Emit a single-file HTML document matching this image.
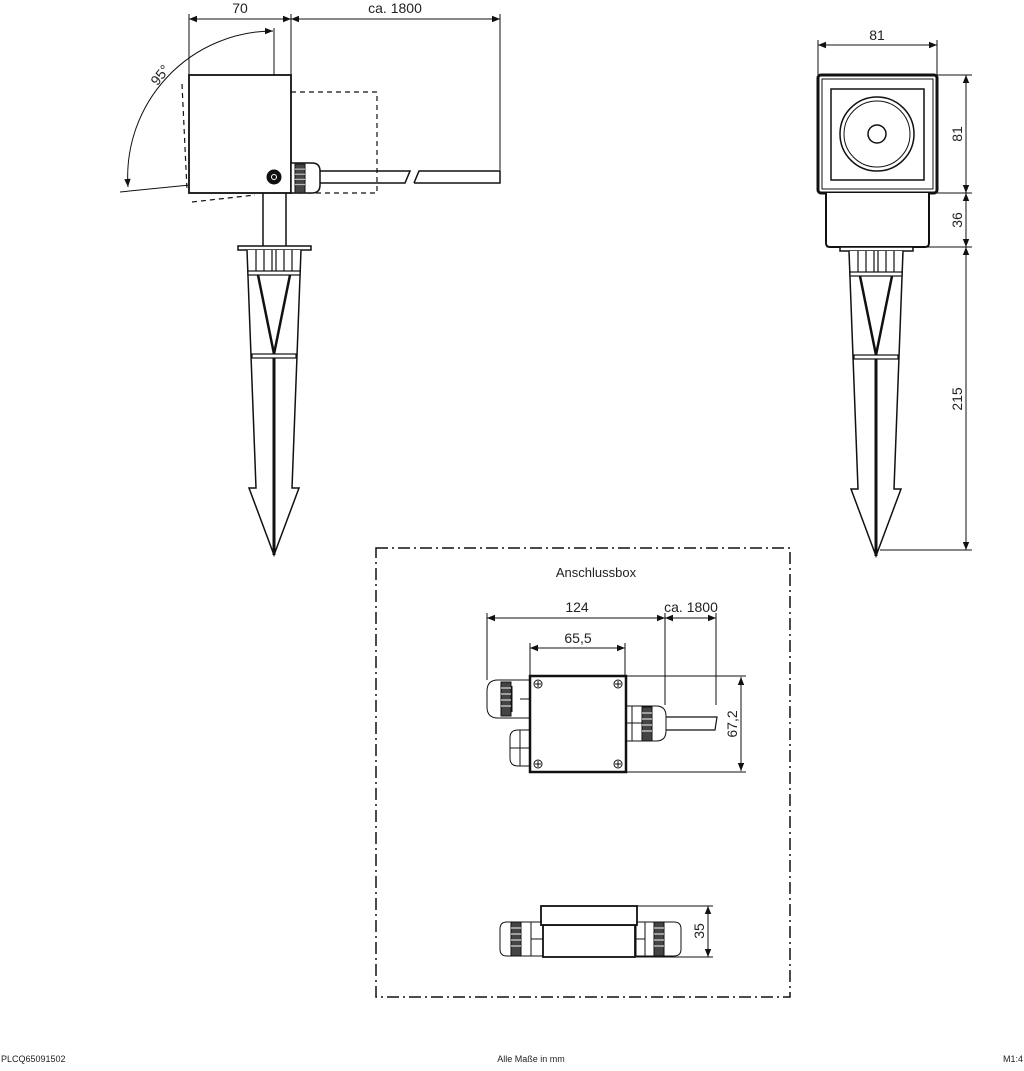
<!DOCTYPE html>
<html><head><meta charset="utf-8"><style>
html,body{margin:0;padding:0;background:#fff}
svg{display:block}
text{font-family:"Liberation Sans",sans-serif;fill:#222}
</style></head><body>
<svg width="1024" height="1071" viewBox="0 0 1024 1071" xmlns="http://www.w3.org/2000/svg">
<defs>
<marker id="a" viewBox="0 0 10 10" refX="10" refY="5" markerWidth="10" markerHeight="8" markerUnits="userSpaceOnUse" orient="auto-start-reverse"><path d="M0,1 L10,5 L0,9z" fill="#111"/></marker>
<g id="spike" fill="none" stroke="#111">
<rect x="-36" y="-4" width="73" height="4" stroke-width="1.5" fill="#fff"/>
<path d="M-27,0 L-18,238 L-25,238 L0,305 L25,238 L18,238 L27,0" stroke-width="1.5" fill="#fff"/>
<path d="M-18,0 V22 M-10,0 V22 M-2,0 V22 M2,0 V22 M10,0 V22 M18,0 V22" stroke-width="1.2"/>
<rect x="-26" y="21" width="52" height="4" stroke-width="1.2" fill="#fff"/>
<rect x="-22" y="104" width="44" height="4" stroke-width="1.2" fill="#fff"/>
<path d="M-16,25 L0,104 L16,25" stroke-width="2.5"/>
<path d="M0,108 V305" stroke-width="3"/>
</g>
<g id="gl"><rect x="0" y="0" width="10" height="34" fill="#444"/><path d="M0,6h10M0,12h10M0,18h10M0,24h10" stroke="#bbb" stroke-width="1.5"/></g>
</defs>
<g fill="none" stroke="#111" stroke-width="1">
<!-- side view -->
<path d="M189,14V75M291,14V75M500,14V170"/>
<path d="M189,19H291" marker-start="url(#a)" marker-end="url(#a)"/>
<path d="M291,19H500" marker-start="url(#a)" marker-end="url(#a)"/>
<path d="M274,28V172"/>
<path d="M128,187 A146,146 0 0 1 273,31" marker-start="url(#a)" marker-end="url(#a)"/>
<path d="M120,192 L270,177"/>
<rect x="189" y="75" width="102" height="118" stroke-width="1.8" fill="#fff"/>
<path d="M182,84 L187,190 M192,202 L255,195 M291,92 H377 V193 H291" stroke-dasharray="5,4" stroke-width="1.2"/>
<circle cx="274" cy="177" r="7" fill="#111"/><circle cx="274" cy="177" r="2.5" stroke="#fff"/>
<path d="M291,163 H312 Q320,163 320,171 V185 Q320,193 312,193 H291Z" stroke-width="1.5" fill="#fff"/>
<use href="#gl" x="295" y="164" transform="translate(0,0) scale(1,0.85) translate(0,29)"/>
<path d="M320,171 H410 L405,183 H320 M414,183 L419,171 H500 V183 H414" stroke-width="1.5"/>
<path d="M263,193 V246 M286,193 V246" stroke-width="1.5"/>
<use href="#spike" x="274" y="250"/>
<!-- front view -->
<path d="M818,40V75M937,40V75"/>
<path d="M818,45H937" marker-start="url(#a)" marker-end="url(#a)"/>
<rect x="818" y="75" width="119" height="118" rx="3" stroke-width="3" fill="#fff"/>
<rect x="822" y="79" width="111" height="110" stroke-width="1"/>
<rect x="831" y="89" width="93" height="91" stroke-width="1.5"/>
<circle cx="877" cy="134" r="37" stroke-width="1.5"/><circle cx="877" cy="134" r="33"/>
<circle cx="877" cy="134" r="9" stroke-width="1.5"/>
<path d="M826,193 V243 Q826,247 830,247 H925 Q929,247 929,243 V193" stroke-width="2" fill="#fff"/>
<path d="M937,75H972M937,193H972M918,247H972M880,550H972"/>
<path d="M966,75V193" marker-start="url(#a)" marker-end="url(#a)"/>
<path d="M966,193V247" marker-start="url(#a)" marker-end="url(#a)"/>
<path d="M966,247V550" marker-start="url(#a)" marker-end="url(#a)"/>
<use href="#spike" x="876" y="251"/>
<!-- box -->
<rect x="376" y="548" width="414" height="449" stroke-width="1.5" stroke-dasharray="12,4,2,4"/>
<path d="M487,613V680M665,613V705M716,613V705M530,643V676M625,643V676M626,676H746M626,772H746"/>
<path d="M487,618H665" marker-start="url(#a)" marker-end="url(#a)"/>
<path d="M665,618H716" marker-start="url(#a)" marker-end="url(#a)"/>
<path d="M530,648H625" marker-start="url(#a)" marker-end="url(#a)"/>
<path d="M741,677V771" marker-start="url(#a)" marker-end="url(#a)"/>
<path d="M498,680 H530 V718 H498 Q487,718 487,707 V691 Q487,680 498,680Z" fill="#fff"/>
<use href="#gl" x="501" y="682"/>
<path d="M512,686V712M520,699H530"/>
<path d="M518,730 H530 V766 H518 Q510,766 510,758 V738 Q510,730 518,730Z" fill="#fff"/>
<path d="M520,730V766M510,748H530"/>
<path d="M626,706 H656 Q666,706 666,716 V731 Q666,741 656,741 H626Z" fill="#fff"/>
<use href="#gl" x="642" y="707"/>
<path d="M632,706V741M626,723H642"/>
<path d="M666,717 H717 L715,730 H666" stroke-width="1.2"/>
<rect x="530" y="676" width="96" height="96" stroke-width="2.5" fill="#fff"/>
<g stroke-width="1"><circle cx="538" cy="684" r="4"/><circle cx="618" cy="684" r="4"/><circle cx="538" cy="764" r="4"/><circle cx="618" cy="764" r="4"/>
<path d="M535,684h6M538,681v6M615,684h6M618,681v6M535,764h6M538,761v6M615,764h6M618,761v6"/></g>
<!-- side box -->
<path d="M636,906H713M636,957H713"/>
<path d="M708,906V957" marker-start="url(#a)" marker-end="url(#a)"/>
<path d="M507,922 H543 V956 H507 Q500,956 500,949 V929 Q500,922 507,922Z" fill="#fff"/>
<use href="#gl" x="511" y="922"/>
<path d="M531,922V956M531,939H543"/>
<path d="M636,922 H674 Q681,922 681,929 V949 Q681,956 674,956 H636Z" fill="#fff"/>
<use href="#gl" x="654" y="922"/>
<path d="M645,922V956M636,939H645"/>
<rect x="543" y="925" width="92" height="32" stroke-width="1.8" fill="#fff"/>
<rect x="541" y="906" width="96" height="19" stroke-width="1.8" fill="#fff"/>
</g>
<g font-size="14">
<text x="240" y="13" text-anchor="middle">70</text>
<text x="395" y="13" text-anchor="middle">ca. 1800</text>
<text x="160" y="80" text-anchor="middle" transform="rotate(-52 160 75)">95°</text>
<text x="877" y="40" text-anchor="middle">81</text>
<text transform="translate(962,134) rotate(-90)" text-anchor="middle">81</text>
<text transform="translate(962,220) rotate(-90)" text-anchor="middle">36</text>
<text transform="translate(962,399) rotate(-90)" text-anchor="middle">215</text>
<text x="596" y="577" text-anchor="middle" font-size="13">Anschlussbox</text>
<text x="577" y="612" text-anchor="middle">124</text>
<text x="691" y="612" text-anchor="middle">ca. 1800</text>
<text x="578" y="643" text-anchor="middle">65,5</text>
<text transform="translate(737,724) rotate(-90)" text-anchor="middle">67,2</text>
<text transform="translate(704,931) rotate(-90)" text-anchor="middle">35</text>
</g>
<g font-size="9">
<text x="1" y="1062">PLCQ65091502</text>
<text x="531" y="1062" text-anchor="middle">Alle Maße in mm</text>
<text x="1023" y="1062" text-anchor="end">M1:4</text>
</g>
</svg>
</body></html>
